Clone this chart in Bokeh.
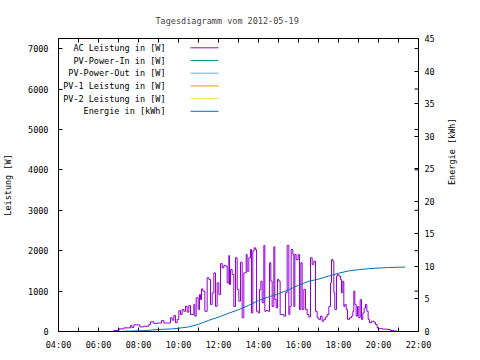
import math
from bokeh.plotting import figure
from bokeh.models import (Range1d, LinearAxis, FixedTicker, ColumnDataSource)
from bokeh.core.properties import value
from bokeh.embed import file_html
from bokeh.resources import INLINE

# ---------------- data ----------------
title_text = "Tagesdiagramm vom 2012-05-19"
x_tick_labels = ["04:00", "06:00", "08:00", "10:00", "12:00", "14:00",
                 "16:00", "18:00", "20:00", "22:00"]
legend_labels = ["AC Leistung in [W]", "PV-Power-In in [W]", "PV-Power-Out in [W]",
                 "PV-1 Leistung in [W]", "PV-2 Leistung in [W]", "Energie in [kWh]"]
legend_colors = ["#9400D3", "#009E73", "#56B4E9", "#E69F00", "#F0E442", "#0072B2"]

ac_time = ["06:24", "06:46", "07:01", "07:16", "07:36", "07:40", "07:46", "08:01", "08:04",
           "08:16", "08:31", "08:36", "08:46", "08:56", "09:09", "09:16", "09:26", "09:36",
           "09:41", "09:46", "09:51", "09:56", "10:01", "10:06", "10:11", "10:16", "10:21",
           "10:26", "10:31", "10:36", "10:46", "10:49", "10:53", "10:59", "11:03", "11:06",
           "11:09", "11:13", "11:19", "11:26", "11:31", "11:36", "11:41", "11:46", "11:51",
           "11:56", "12:01", "12:06", "12:11", "12:16", "12:21", "12:26", "12:31", "12:33",
           "12:36", "12:41", "12:46", "12:51", "12:56", "13:01", "13:06", "13:11", "13:16",
           "13:23", "13:26", "13:31", "13:36", "13:39", "13:43", "13:47", "13:51", "13:54",
           "13:59", "14:03", "14:07", "14:11", "14:16", "14:19", "14:23", "14:29", "14:33",
           "14:37", "14:41", "14:46", "14:49", "14:53", "14:57", "15:01", "15:05", "15:11",
           "15:16", "15:21", "15:26", "15:31", "15:34", "15:38", "15:43", "15:46", "15:49",
           "15:53", "15:59", "16:03", "16:07", "16:11", "16:16", "16:21", "16:26", "16:31",
           "16:36", "16:41", "16:46", "16:51", "16:56", "17:01", "17:06", "17:11", "17:16",
           "17:21", "17:26", "17:31", "17:36", "17:39", "17:43", "17:46", "17:49", "17:54",
           "17:57", "18:01", "18:06", "18:09", "18:13", "18:16", "18:19", "18:23", "18:27",
           "18:33", "18:39", "18:43", "18:46", "18:49", "18:53", "18:57", "19:01", "19:05",
           "19:09", "19:13", "19:17", "19:21", "19:25", "19:29", "19:33", "19:39", "19:46",
           "19:51", "19:56", "20:01", "20:11", "20:26", "20:36", "20:46", "20:56"]
ac_watt = [0, 25, 65, 90, 150, 100, 165, 165, 115,
           130, 175, 240, 200, 210, 270, 210, 210, 340,
           280, 395, 215, 300, 515, 420, 545, 500, 625,
           480, 640, 420, 670, 380, 835, 545, 915, 790,
           1055, 1000, 500, 1330, 1290, 670, 955, 1450, 625,
           1205, 915, 1680, 1575, 1635, 1620, 1200, 1880, 1160,
           1535, 1410, 620, 1825, 1040, 750, 1715, 340, 1450,
           1905, 1490, 1825, 2030, 460, 1990, 2070, 2030, 500,
           460, 1040, 1245, 710, 2130, 500, 520, 500, 1700,
           1245, 620, 2095, 790, 585, 1290, 1245, 420, 420,
           380, 960, 2130, 420, 620, 2030, 1905, 620, 1905,
           1780, 1905, 545, 1700, 545, 1040, 545, 420, 360,
           1825, 1660, 1740, 500, 340, 300, 380, 255, 300,
           360, 420, 620, 1205, 1780, 1740, 960, 540, 1370,
           1410, 1370, 1290, 960, 1245, 620, 670, 540, 300,
           340, 380, 500, 1000, 670, 380, 620, 340, 790,
           300, 460, 580, 670, 500, 300, 215, 255, 230,
           175, 90, 70, 60, 50, 25, 10, 0]

energy_time = ["07:00", "08:25", "08:55", "09:40", "10:00", "10:30", "11:00", "11:30",
               "12:00", "12:30", "13:00", "13:30", "14:00", "14:30", "15:00", "15:30",
               "16:00", "16:30", "17:00", "17:30", "18:00", "18:30", "19:00", "19:30",
               "20:00", "20:30", "21:00", "21:20"]
energy_kwh = [0.0, 0.15, 0.3, 0.4, 0.5, 0.7, 1.1, 1.7,
              2.2, 2.8, 3.35, 4.0, 4.75, 5.3, 5.8, 6.4,
              7.1, 7.7, 8.05, 8.5, 8.95, 9.3, 9.5, 9.65,
              9.75, 9.82, 9.87, 9.9]

x_ticks = [4, 6, 8, 10, 12, 14, 16, 18, 20, 22]
x_minor_ticks = [5, 7, 9, 11, 13, 15, 17, 19, 21]
y1_ticks = [0, 1000, 2000, 3000, 4000, 5000, 6000, 7000]
y2_ticks = [0, 5, 10, 15, 20, 25, 30, 35, 40, 45]

# ---------------- helpers ----------------
def hm(s):
    h, m = s.split(":")
    return int(h) + int(m) / 60.0

FONT = "DejaVu Sans Mono"
FS = "8.5px"
X0, X1 = 4, 22
Y1MAX = 7250
Y2MAX = 45
FW, FH = 360, 293
TICK = 4

p = figure(frame_width=FW, frame_height=FH,
           min_border_left=56, min_border_right=50, min_border_top=38, min_border_bottom=20,
           x_range=Range1d(X0, X1), y_range=Range1d(0, Y1MAX),
           output_backend="svg", toolbar_location=None, title=title_text)
p.extra_y_ranges = {"energy": Range1d(0, Y2MAX)}
p.background_fill_color = "white"
p.border_fill_color = "white"
p.outline_line_color = "black"
p.outline_line_width = 1
p.xgrid.visible = False
p.ygrid.visible = False

p.title.text_font = FONT
p.title.text_font_size = FS
p.title.text_font_style = "normal"
p.title.align = "left"
p.title.offset = 97
p.title.standoff = 25

def style_axis(ax):
    ax.axis_line_color = "black"
    ax.major_tick_line_color = "black"
    ax.minor_tick_line_color = "black"
    ax.major_tick_in = TICK
    ax.major_tick_out = 0
    ax.minor_tick_in = TICK
    ax.minor_tick_out = 0
    ax.major_label_text_font = FONT
    ax.major_label_text_font_size = FS
    ax.major_label_text_color = "black"
    ax.axis_label_text_font = FONT
    ax.axis_label_text_font_size = FS
    ax.axis_label_text_font_style = "normal"
    ax.axis_label_text_color = "black"

# bottom x axis
xa = p.xaxis[0]
xa.ticker = FixedTicker(ticks=x_ticks, minor_ticks=x_minor_ticks)
xa.major_label_overrides = {t: lab for t, lab in zip(x_ticks, x_tick_labels)}
style_axis(xa)
xa.major_label_standoff = 8

# left y axis
ya = p.yaxis[0]
ya.ticker = FixedTicker(ticks=y1_ticks, minor_ticks=[])
style_axis(ya)
ya.major_label_standoff = 10
ya.axis_label = "Leistung [W]"
ya.axis_label_standoff = 12

# right energy axis
ra = LinearAxis(y_range_name="energy",
                ticker=FixedTicker(ticks=y2_ticks, minor_ticks=[]))
style_axis(ra)
ra.major_label_standoff = 6
ra.axis_label = "Energie [kWh]"
ra.axis_label_standoff = 14
ra.axis_label_orientation = math.pi / 2
p.add_layout(ra, "right")

# mirrored tick marks (top border: x ticks, right border: left-axis ticks)
dy_tick = TICK * Y1MAX / FH
dx_tick = TICK * (X1 - X0) / FW
top_x = x_ticks + x_minor_ticks
p.segment(x0=top_x, x1=top_x, y0=[Y1MAX] * len(top_x), y1=[Y1MAX - dy_tick] * len(top_x),
          line_color="black", line_width=1)
p.segment(x0=[X1] * len(y1_ticks), x1=[X1 - dx_tick] * len(y1_ticks),
          y0=y1_ticks, y1=y1_ticks, line_color="black", line_width=1)

# data
src_ac = ColumnDataSource(dict(x=[hm(t) for t in ac_time], y=ac_watt))
p.step("x", "y", source=src_ac, mode="after", line_color=legend_colors[0], line_width=1)
src_en = ColumnDataSource(dict(x=[hm(t) for t in energy_time], y=energy_kwh))
p.line("x", "y", source=src_en, line_color=legend_colors[5], line_width=1,
       y_range_name="energy")

# legend (gnuplot style: label right-aligned, sample line to the right)
def px_x(px):  # frame pixel from left -> data x
    return X0 + (X1 - X0) * px / FW

def px_y(py):  # frame pixel from top -> data y
    return Y1MAX * (1 - py / FH)

rows = [9.3 + 12.7 * i for i in range(len(legend_labels))]
p.text(x=[px_x(107)] * len(rows), y=[px_y(r) for r in rows], text=legend_labels,
       text_align="right", text_baseline="middle", text_font=value(FONT),
       text_font_size=FS, text_color="black")
p.segment(x0=[px_x(132)] * len(rows), x1=[px_x(160)] * len(rows),
          y0=[px_y(r) for r in rows], y1=[px_y(r) for r in rows],
          line_color=legend_colors, line_width=1)

open("out.html", "w").write(file_html(p, INLINE))
